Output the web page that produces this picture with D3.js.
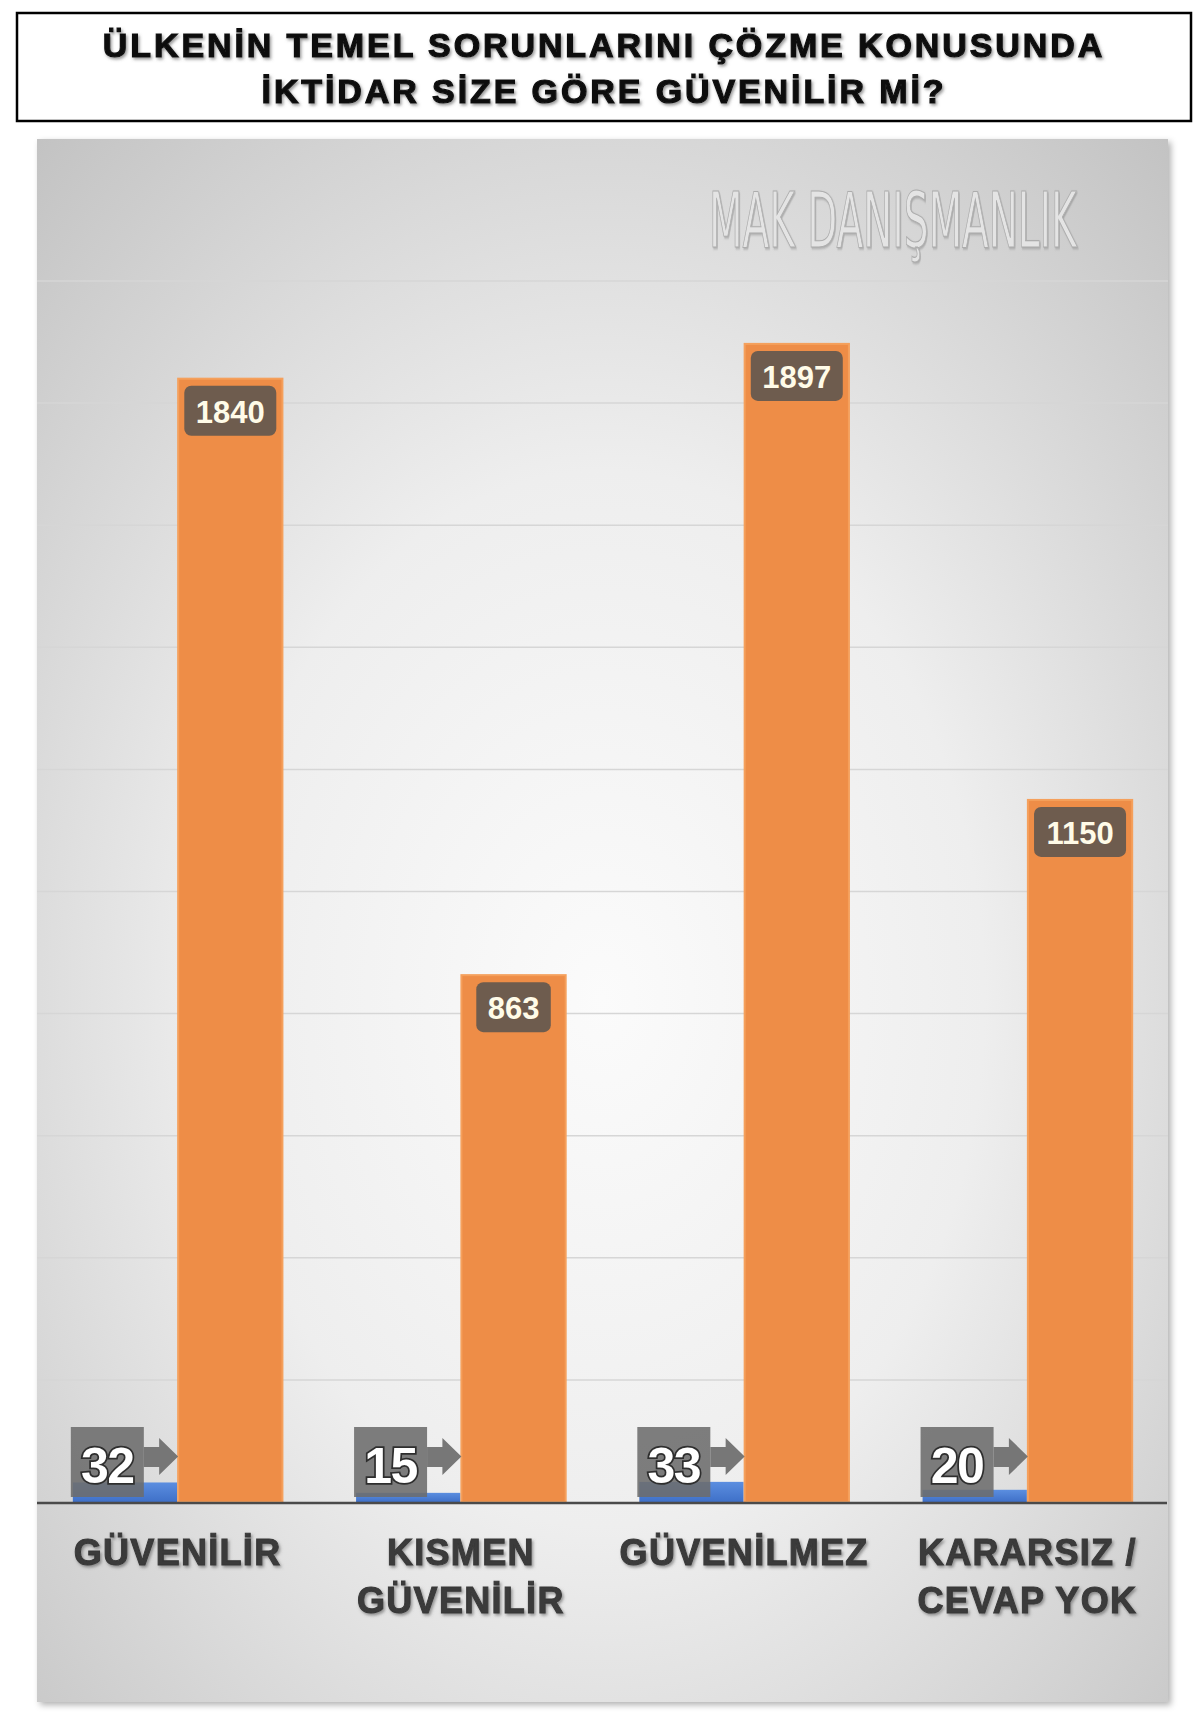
<!DOCTYPE html>
<html>
<head>
<meta charset="utf-8">
<script src="https://cdn.jsdelivr.net/npm/d3@7"></script>
<style>
  html, body { margin: 0; padding: 0; background: #ffffff; }
  svg { display: block; }
</style>
</head>
<body>
<svg id="chart" width="1200" height="1728"></svg>
<script>
// ---------- DATA ----------
const titleLines = ["ÜLKENİN TEMEL SORUNLARINI ÇÖZME KONUSUNDA", "İKTİDAR SİZE GÖRE GÜVENİLİR Mİ?"];
const categories = ["GÜVENİLİR", "KISMEN GÜVENİLİR", "GÜVENİLMEZ", "KARARSIZ / CEVAP YOK"];
const categoryLines = [["GÜVENİLİR"], ["KISMEN", "GÜVENİLİR"], ["GÜVENİLMEZ"], ["KARARSIZ /", "CEVAP YOK"]];
const blueValues = [32, 15, 33, 20];
const orangeValues = [1840, 863, 1897, 1150];
const watermark = "MAK DANIŞMANLIK";

// ---------- SETUP ----------
const svg = d3.select("#chart");
const defs = svg.append("defs");

const panel = { x: 37, y: 139, w: 1131, h: 1563 };
const baseY = 1502;

// gradients & filters
const rg = defs.append("radialGradient").attr("id", "bgGrad")
  .attr("cx", "50%").attr("cy", "55%").attr("r", "75%")
  .attr("gradientUnits", "objectBoundingBox");
rg.append("stop").attr("offset", "0%").attr("stop-color", "#fbfbfb");
rg.append("stop").attr("offset", "45%").attr("stop-color", "#eeeeee");
rg.append("stop").attr("offset", "100%").attr("stop-color", "#c2c2c2");

const blueGrad = defs.append("linearGradient").attr("id", "blueGrad").attr("x1", 0).attr("y1", 0).attr("x2", 0).attr("y2", 1);
blueGrad.append("stop").attr("offset", "0%").attr("stop-color", "#5b8ee0");
blueGrad.append("stop").attr("offset", "100%").attr("stop-color", "#3f70c8");

const sh = defs.append("filter").attr("id", "panelShadow").attr("x", "-5%").attr("y", "-5%").attr("width", "110%").attr("height", "110%");
sh.append("feDropShadow").attr("dx", 3).attr("dy", 3).attr("stdDeviation", 3).attr("flood-color", "#000").attr("flood-opacity", 0.3);

const ts = defs.append("filter").attr("id", "textShadow").attr("x", "-10%").attr("y", "-30%").attr("width", "120%").attr("height", "160%");
ts.append("feDropShadow").attr("dx", 1.5).attr("dy", 2).attr("stdDeviation", 1.5).attr("flood-color", "#555").attr("flood-opacity", 0.6);

const ws = defs.append("filter").attr("id", "wmShadow").attr("x", "-20%").attr("y", "-50%").attr("width", "140%").attr("height", "200%");
ws.append("feDropShadow").attr("dx", 1.5).attr("dy", 1.5).attr("stdDeviation", 1).attr("flood-color", "#8a8a8a").attr("flood-opacity", 0.6);

// ---------- TITLE ----------
svg.append("rect").attr("x", 17).attr("y", 13).attr("width", 1174).attr("height", 108)
  .attr("fill", "#ffffff").attr("stroke", "#000").attr("stroke-width", 2.5);
svg.append("g").selectAll("text").data(titleLines).join("text")
  .attr("x", 604).attr("y", (d, i) => 57 + i * 46)
  .attr("text-anchor", "middle")
  .attr("font-family", "'Liberation Sans', Arial, sans-serif")
  .attr("font-weight", "bold").attr("font-size", 34)
  .attr("letter-spacing", 2.9)
  .attr("fill", "#111").attr("stroke", "#111").attr("stroke-width", 1.2)
  .attr("filter", "url(#textShadow)")
  .text(d => d);

// ---------- PANEL ----------
svg.append("rect").attr("x", panel.x).attr("y", panel.y).attr("width", panel.w).attr("height", panel.h)
  .attr("fill", "url(#bgGrad)").attr("filter", "url(#panelShadow)");

// watermark (condensed by a horizontal scale)
svg.append("g")
  .attr("transform", "translate(709,247) scale(0.57,1)")
  .append("text")
  .attr("x", 0).attr("y", 0)
  .attr("font-family", "'Liberation Sans Narrow', 'DejaVu Sans Condensed', sans-serif")
  .attr("font-size", 76)
  .attr("fill", "#e4e4e4").attr("stroke", "#adadad").attr("stroke-width", 1.1)
  .attr("filter", "url(#wmShadow)")
  .text(watermark);

// ---------- SCALES ----------
const x0 = d3.scaleBand().domain(categories).range([panel.x - 1, panel.x + panel.w + 1])
  .paddingInner(0.26).paddingOuter(0.13);
const x1 = d3.scaleBand().domain(["blue", "orange"]).range([0, x0.bandwidth()]).paddingInner(0.01);
const y = d3.scaleLinear().domain([0, 2000]).range([baseY, 281]);

// gridlines
svg.append("g").selectAll("line").data(y.ticks(10).filter(t => t > 0)).join("line")
  .attr("x1", panel.x).attr("x2", panel.x + panel.w)
  .attr("y1", d => y(d)).attr("y2", d => y(d))
  .attr("stroke", "#d6d6d6").attr("stroke-width", 1.5);

// ---------- BARS ----------
const groups = svg.append("g").selectAll("g").data(categories).join("g")
  .attr("transform", d => `translate(${x0(d)},0)`);

// blue bars
groups.append("rect")
  .attr("x", x1("blue")).attr("width", x1.bandwidth())
  .attr("y", (d, i) => y(blueValues[i])).attr("height", (d, i) => baseY - y(blueValues[i]))
  .attr("fill", "url(#blueGrad)");

// orange bars
groups.append("rect")
  .attr("x", x1("orange")).attr("width", x1.bandwidth())
  .attr("y", (d, i) => y(orangeValues[i])).attr("height", (d, i) => baseY - y(orangeValues[i]))
  .attr("fill", "#ee8d47").attr("stroke", "#f5a05c").attr("stroke-width", 2);

// orange value labels
groups.each(function (d, i) {
  const g = d3.select(this);
  const v = orangeValues[i];
  const label = String(v);
  const bw = label.length * 17.5 + 22;
  const cx = x1("orange") + x1.bandwidth() / 2;
  const top = y(v) + 7;
  g.append("rect").attr("x", cx - bw / 2).attr("y", top).attr("width", bw).attr("height", 50)
    .attr("rx", 7).attr("fill", "#6e5c4e");
  g.append("text").attr("x", cx).attr("y", top + 37)
    .attr("text-anchor", "middle")
    .attr("font-family", "'Liberation Sans', Arial, sans-serif")
    .attr("font-weight", "bold").attr("font-size", 31)
    .attr("fill", "#fffbe8")
    .text(label);
});

// blue value callouts
groups.each(function (d, i) {
  const g = d3.select(this);
  const v = blueValues[i];
  const bx = x1("blue") - 2;
  const boxW = 73, boxTop = baseY - 75, boxH = 70;
  const tipX = x1("orange");
  g.append("rect").attr("x", bx).attr("y", boxTop).attr("width", boxW).attr("height", boxH)
    .attr("fill", "#6c6c6c").attr("opacity", 0.88);
  const bodyTop = baseY - 55, bodyBot = baseY - 35;
  const headTop = baseY - 64, headBot = baseY - 27;
  const headX = tipX - 19;
  g.append("path")
    .attr("d", `M${bx + boxW},${bodyTop} L${headX},${bodyTop} L${headX},${headTop} L${tipX},${(headTop + headBot) / 2} L${headX},${headBot} L${headX},${bodyBot} L${bx + boxW},${bodyBot} Z`)
    .attr("fill", "#6c6c6c").attr("opacity", 0.92);
  g.append("text").attr("x", bx + boxW / 2).attr("y", baseY - 19)
    .attr("text-anchor", "middle")
    .attr("font-family", "'Liberation Sans', Arial, sans-serif")
    .attr("font-weight", "bold").attr("font-size", 50)
    .attr("letter-spacing", -1.5)
    .attr("fill", "#ffffff").attr("stroke", "#2e2e2e").attr("stroke-width", 3.5)
    .attr("paint-order", "stroke")
    .text(v);
});

// baseline
svg.append("line").attr("x1", panel.x).attr("x2", panel.x + panel.w - 1)
  .attr("y1", baseY + 1).attr("y2", baseY + 1)
  .attr("stroke", "#4a4a4a").attr("stroke-width", 2.5);

// category labels
groups.each(function (d, i) {
  const g = d3.select(this);
  g.append("text")
    .attr("x", x0.bandwidth() / 2).attr("y", 1565)
    .attr("text-anchor", "middle")
    .attr("font-family", "'Liberation Sans', Arial, sans-serif")
    .attr("font-weight", "bold").attr("font-size", 36)
    .attr("letter-spacing", 1.3)
    .attr("fill", "#3a3a3a").attr("stroke", "#3a3a3a").attr("stroke-width", 1)
    .attr("filter", "url(#textShadow)")
    .selectAll("tspan").data(categoryLines[i]).join("tspan")
    .attr("x", x0.bandwidth() / 2).attr("dy", (t, j) => j === 0 ? 0 : 48)
    .text(t => t);
});
</script>
</body>
</html>
